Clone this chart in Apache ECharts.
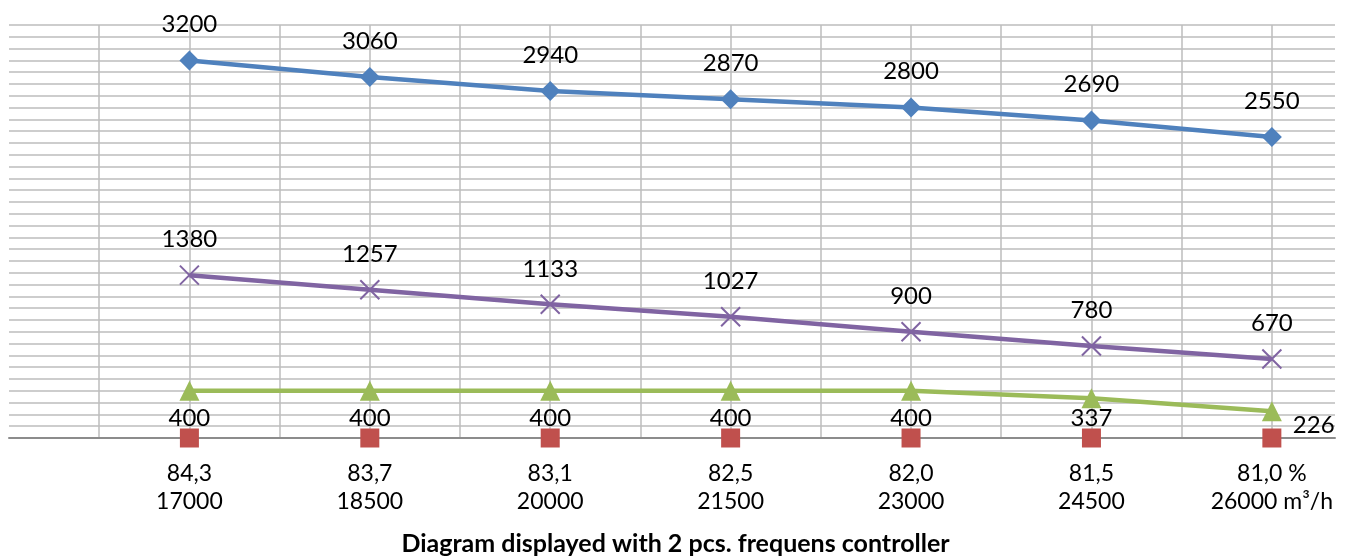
<!DOCTYPE html>
<html>
<head>
<meta charset="utf-8">
<script src="https://cdn.jsdelivr.net/npm/echarts@6/dist/echarts.min.js"></script>
<style>
  html, body { margin: 0; padding: 0; background: #fff; }
  #chart { width: 1351px; height: 556px; }
</style>
</head>
<body>
<div id="chart"></div>
<script>
// Operating points (efficiency %, airflow m³/h)
const efficiency = ['84,3', '83,7', '83,1', '82,5', '82,0', '81,5', '81,0'];
const airflow = ['17000', '18500', '20000', '21500', '23000', '24500', '26000'];
const efficiencyUnit = ' %';
const airflowUnit = ' m³/h';

// Series values per operating point
const upperValues = [3200, 3060, 2940, 2870, 2800, 2690, 2550];
const middleValues = [1380, 1257, 1133, 1027, 900, 780, 670];
const lowerValues = [400, 400, 400, 400, 400, 337, 226];
const baseValues = [0, 0, 0, 0, 0, 0, 0];

const titleText = 'Diagram displayed with 2 pcs. frequens controller';

const FONT = 'Lato, "Open Sans", sans-serif';
const last = efficiency.length - 1;

function pairs(values) {
  return values.map((v, i) => [i, v]);
}

function tickLabel(v) {
  const i = Math.round(v);
  if (Math.abs(v - i) > 1e-6 || i < 0 || i > last) return '';
  const e = efficiency[i] + (i === last ? efficiencyUnit : '');
  const f = airflow[i] + (i === last ? airflowUnit : '');
  return e + '\n' + f;
}

const labelStyle = { show: true, color: '#000', fontFamily: FONT, fontSize: 24 };

// lower series labels sit below the markers; the last two are nudged
const lowerData = pairs(lowerValues).map((p, i) => {
  if (i === last) {
    return { value: p, label: { position: 'right', distance: 11, offset: [0, 14] } };
  }
  if (i === last - 1) {
    return { value: p, label: { offset: [0, -7] } };
  }
  return { value: p };
});

const chart = echarts.init(document.getElementById('chart'), null, { renderer: 'canvas' });

chart.setOption({
  animation: false,
  backgroundColor: '#fff',
  title: {
    text: titleText,
    left: 'center',
    top: 526,
    textStyle: { fontFamily: FONT, fontSize: 25, fontWeight: 'bold', color: '#000' }
  },
  grid: { left: 9, right: 16, top: 25, bottom: 118, containLabel: false },
  xAxis: {
    type: 'value',
    min: -1,
    max: 6.35,
    interval: 0.5,
    axisLine: { show: true, lineStyle: { color: '#8C8C8C', width: 2 } },
    axisTick: { show: false },
    splitLine: {
      show: true,
      showMinLine: false,
      showMaxLine: false,
      lineStyle: { color: '#BDBDBD', width: 1.5 }
    },
    axisLabel: {
      show: true,
      formatter: tickLabel,
      margin: 22,
      color: '#000',
      fontFamily: FONT,
      fontSize: 23,
      lineHeight: 28,
      showMinLabel: true,
      showMaxLabel: true
    }
  },
  yAxis: {
    type: 'value',
    min: 0,
    max: 3500,
    interval: 100,
    axisLine: { show: false },
    axisTick: { show: false },
    axisLabel: { show: false },
    splitLine: { show: true, lineStyle: { color: '#BDBDBD', width: 1.5 } }
  },
  series: [
    {
      name: 'upper',
      type: 'line',
      data: pairs(upperValues),
      symbol: 'diamond',
      symbolSize: 20,
      lineStyle: { color: '#4F81BD', width: 4.5 },
      itemStyle: { color: '#4F81BD' },
      label: Object.assign({ position: 'top', distance: 14 }, labelStyle),
      z: 4
    },
    {
      name: 'base',
      type: 'line',
      data: pairs(baseValues),
      symbol: 'rect',
      symbolSize: 19,
      lineStyle: { opacity: 0 },
      itemStyle: { color: '#C0504D' },
      z: 5
    },
    {
      name: 'lower',
      type: 'line',
      data: lowerData,
      symbol: 'triangle',
      symbolSize: 20,
      lineStyle: { color: '#9BBB59', width: 4.5 },
      itemStyle: { color: '#9BBB59' },
      label: Object.assign({ position: 'bottom', distance: 5 }, labelStyle),
      z: 4
    },
    {
      name: 'middle',
      type: 'line',
      data: pairs(middleValues),
      symbol: 'path://M0,0L10,10M10,0L0,10',
      symbolSize: 19,
      lineStyle: { color: '#8064A2', width: 4.5 },
      itemStyle: { color: '#8064A2', borderColor: '#8064A2', borderWidth: 2 },
      label: Object.assign({ position: 'top', distance: 13 }, labelStyle),
      z: 4
    }
  ]
});
</script>
</body>
</html>
